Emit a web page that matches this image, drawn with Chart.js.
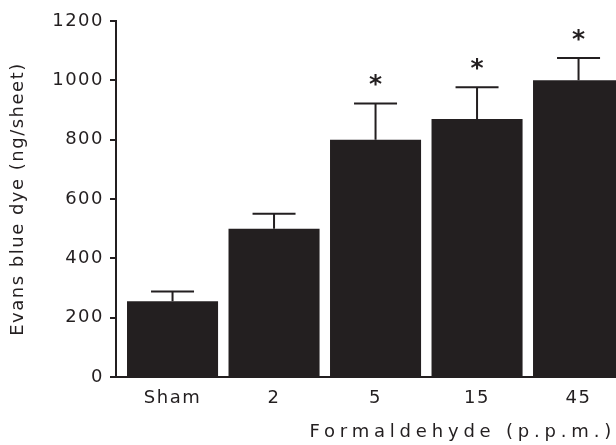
<!DOCTYPE html>
<html>
<head>
<meta charset="utf-8">
<title>Evans blue dye vs formaldehyde</title>
<script src="https://cdn.jsdelivr.net/npm/chart.js@4"></script>
<style>
  html, body { margin: 0; padding: 0; background: #fff; overflow: hidden; }
  canvas { display: block; }
</style>
</head>
<body>
<canvas id="chart" width="616" height="445"></canvas>
<script>
// data
const categories = ['Sham', '2', '5', '15', '45'];
const dyeMeans = [255, 500, 800, 870, 1000];
const dyeErrors = [33, 50, 122, 107, 75];
const significance = ['', '', '*', '*', '*'];
const yTicks = [0, 200, 400, 600, 800, 1000, 1200];

const INK = '#231f20';
const FONT = 'DejaVu Sans';

// upper-only error bars plus the significance stars
const errorBars = {
  id: 'errorBars',
  afterDatasetsDraw(chart) {
    const { ctx } = chart;
    const y = chart.scales.y;
    const meta = chart.getDatasetMeta(0);
    ctx.save();
    ctx.strokeStyle = INK;
    ctx.fillStyle = INK;
    ctx.lineWidth = 2;
    meta.data.forEach((bar, i) => {
      const top = y.getPixelForValue(dyeMeans[i] + dyeErrors[i]);
      const base = y.getPixelForValue(dyeMeans[i]);
      ctx.beginPath();
      ctx.moveTo(bar.x, base);
      ctx.lineTo(bar.x, top);
      ctx.moveTo(bar.x - 21.5, top);
      ctx.lineTo(bar.x + 21.5, top);
      ctx.stroke();
      if (significance[i]) {
        ctx.letterSpacing = '0px';
        ctx.font = `bold 25px "${FONT}"`;
        ctx.textAlign = 'center';
        ctx.textBaseline = 'alphabetic';
        ctx.fillText(significance[i], bar.x, top - 11);
      }
    });
    ctx.restore();
  }
};

// the printed figure has loosely tracked type
const tracking = {
  id: 'tracking',
  beforeDraw(chart) {
    chart.ctx.letterSpacing = '1.5px';
    const sx = chart.scales.x;
    if (!sx._tracked) {
      const orig = sx.drawTitle.bind(sx);
      sx.drawTitle = function () {
        const c = this.ctx;
        const old = c.letterSpacing;
        c.letterSpacing = '4.8px';
        orig();
        c.letterSpacing = old;
      };
      sx._tracked = true;
    }
  }
};

new Chart(document.getElementById('chart'), {
  type: 'bar',
  data: {
    datasets: [{
      data: dyeMeans.map((v, i) => ({ x: i, y: v })),
      backgroundColor: INK,
      borderWidth: 0,
      barPercentage: 0.897,
      categoryPercentage: 1
    }]
  },
  options: {
    responsive: false,
    animation: false,
    layout: { padding: { top: 21, right: 0, left: 0, bottom: 0 } },
    plugins: { legend: { display: false }, tooltip: { enabled: false } },
    scales: {
      x: {
        type: 'linear',
        offset: false,
        min: -0.557,
        max: 4.369,
        afterBuildTicks: s => { s.ticks = categories.map((c, i) => ({ value: i })); },
        afterFit: s => { s.height = 68; },
        grid: { display: false, drawTicks: false },
        border: { display: true, color: INK, width: 2 },
        ticks: {
          color: INK,
          padding: 11,
          maxRotation: 0,
          autoSkip: false,
          font: { family: FONT, size: 18 },
          callback: v => categories[v]
        },
        title: {
          display: true,
          text: 'Formaldehyde (p.p.m.)',
          align: 'end',
          color: INK,
          padding: { top: 0, bottom: 2 },
          font: { family: FONT, size: 18 }
        }
      },
      y: {
        min: 0,
        max: 1200,
        afterBuildTicks: s => { s.ticks = yTicks.map(v => ({ value: v })); },
        afterFit: s => { s.width = 116; },
        grid: { drawOnChartArea: false, drawTicks: true, tickLength: 6, color: INK, lineWidth: 2 },
        border: { display: true, color: INK, width: 2 },
        ticks: {
          color: INK,
          padding: 6,
          font: { family: FONT, size: 18 },
          callback: v => String(v)
        },
        title: {
          display: true,
          text: 'Evans blue dye (ng/sheet)',
          color: INK,
          padding: { top: 8, bottom: 0 },
          font: { family: FONT, size: 18 }
        }
      }
    }
  },
  plugins: [tracking, errorBars]
});
</script>
</body>
</html>
